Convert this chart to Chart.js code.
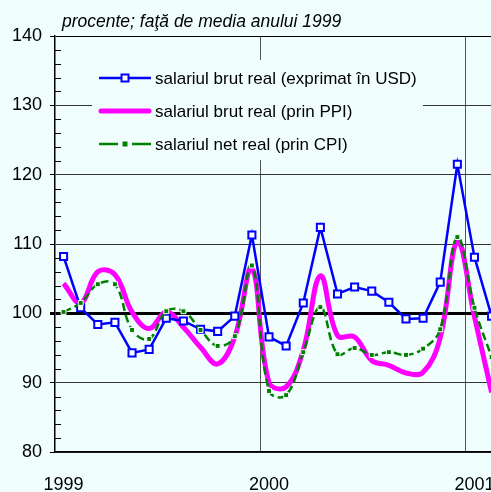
<!DOCTYPE html>
<html>
<head>
<meta charset="utf-8">
<script src="https://cdn.jsdelivr.net/npm/chart.js@4"></script>
<style>
  html, body { margin: 0; padding: 0; overflow: hidden; background: #f0fffe; }
  #wrap { width: 520px; height: 492px; }
</style>
</head>
<body>
<div id="wrap"><canvas id="salChart"></canvas></div>
<script>
// monthly values, Jan 1999 .. Feb 2001 (index 0 = Jan 1999)
const usd = [108.2, 100.8, 98.4, 98.7, 94.3, 94.8, 99.3, 98.9, 97.7, 97.4, 99.6, 111.3,
             96.6, 95.3, 101.5, 112.4, 102.8, 103.8, 103.2, 101.6, 99.2, 99.3, 104.5, 121.5,
             108.1, 99.6];
const ppi = [104.3, 101.5, 106.0, 105.6, 100.2, 97.8, 100.2, 98.0, 95.1, 92.7, 96.6, 106.5,
             90.0, 89.4, 94.7, 105.4, 96.8, 96.6, 93.2, 92.5, 91.4, 91.5, 96.5, 110.3,
             99.5, 88.6];
const cpi = [100.2, 101.5, 104.2, 104.2, 97.6, 96.3, 100.3, 100.3, 97.6, 95.3, 96.7, 106.9,
             88.8, 88.2, 94.4, 100.9, 94.1, 95.0, 94.0, 94.4, 94.0, 94.9, 97.7, 111.0,
             100.8, 93.7];

const seriesNames = ['salariul brut real (exprimat în USD)', 'salariul brut real (prin PPI)', 'salariul net real (prin CPI)'];
const yearLabels = ['1999', '2000', '2001'];
const yearTicks = [0, 12, 24];
const titleText = 'procente; faţă de media anului 1999';

const BG = '#f0fffe';
const FONT = '"Liberation Sans", Arial, sans-serif';

// points sit in the middle of each month
function toPoints(arr) {
    return arr.map((v, i) => ({ x: i + 0.5, y: v }));
}

// title, legend box and the small inner ticks of the y axis
const decorPlugin = {
    id: 'decor',
    beforeDraw(chart) {
        const ctx = chart.ctx;
        ctx.save();
        ctx.fillStyle = BG;
        ctx.fillRect(0, 0, chart.width, chart.height);
        ctx.restore();
    },
    beforeDatasetsDraw(chart) {
        const ctx = chart.ctx;
        const y = chart.scales.y;
        const left = chart.chartArea.left;
        ctx.save();
        // minor ticks every 2 units, inside the plot
        ctx.strokeStyle = '#000';
        ctx.lineWidth = 1;
        for (let v = 82; v < 140; v += 2) {
            if (v % 10 === 0) continue;
            const py = Math.round(y.getPixelForValue(v)) + 0.5;
            ctx.beginPath();
            ctx.moveTo(left, py);
            ctx.lineTo(left + 6, py);
            ctx.stroke();
        }

        // title
        ctx.fillStyle = '#000';
        ctx.font = 'italic 17.5px ' + FONT;
        ctx.textBaseline = 'alphabetic';
        ctx.fillText(titleText, 62, 27);

        // legend box (covers the grid)
        ctx.fillStyle = BG;
        ctx.fillRect(92, 60, 331, 100);
        const rows = [78, 111, 144];
        const x0 = 99, x1 = 151, xm = 125;
        const ds = chart.data.datasets;

        // blue
        ctx.strokeStyle = ds[0].borderColor;
        ctx.lineWidth = 2.5;
        ctx.beginPath(); ctx.moveTo(x0, rows[0]); ctx.lineTo(x1, rows[0]); ctx.stroke();
        ctx.fillStyle = '#fff';
        ctx.lineWidth = 2;
        ctx.fillRect(xm - 3.5, rows[0] - 3.5, 7, 7);
        ctx.strokeRect(xm - 3.5, rows[0] - 3.5, 7, 7);

        // magenta
        ctx.strokeStyle = ds[1].borderColor;
        ctx.lineWidth = 5;
        ctx.lineCap = 'round';
        ctx.beginPath(); ctx.moveTo(x0 + 2, rows[1]); ctx.lineTo(x1 - 2, rows[1]); ctx.stroke();
        ctx.lineCap = 'butt';

        // green
        ctx.strokeStyle = ds[2].borderColor;
        ctx.lineWidth = 2.5;
        ctx.beginPath();
        ctx.moveTo(x0, rows[2]); ctx.lineTo(118, rows[2]);
        ctx.moveTo(132, rows[2]); ctx.lineTo(x1, rows[2]);
        ctx.stroke();
        ctx.fillStyle = ds[2].borderColor;
        ctx.fillRect(xm - 2.5, rows[2] - 2.5, 5, 5);

        ctx.fillStyle = '#000';
        ctx.font = '17px ' + FONT;
        ctx.textBaseline = 'middle';
        seriesNames.forEach((name, i) => ctx.fillText(name, 155, rows[i] + 1));
        ctx.restore();
    }
};

const ctx = document.getElementById('salChart').getContext('2d');
const salChart = new Chart(ctx, {
    type: 'line',
    data: {
        datasets: [{
            label: seriesNames[0],
            data: toPoints(usd),
            borderColor: '#0000ff',
            borderWidth: 2.5,
            tension: 0,
            pointStyle: 'rect',
            pointRadius: 5,
            pointBorderWidth: 2,
            pointBackgroundColor: '#ffffff',
            pointBorderColor: '#0000ff',
            order: 1
        }, {
            label: seriesNames[1],
            data: toPoints(ppi),
            borderColor: '#ff00ff',
            borderWidth: 5,
            tension: 0.4,
            pointRadius: 0,
            order: 2
        }, {
            label: seriesNames[2],
            data: toPoints(cpi),
            borderColor: '#008000',
            borderWidth: 2.5,
            borderDash: [8, 4],
            tension: 0.4,
            pointStyle: 'rect',
            pointRadius: 3.5,
            pointBorderWidth: 1,
            pointBackgroundColor: '#008000',
            pointBorderColor: '#ffffff',
            order: 0
        }]
    },
    options: {
        responsive: true,
        maintainAspectRatio: false,
        animation: false,
        layout: { padding: { top: 36, left: 0, right: 0, bottom: 0 } },
        plugins: {
            legend: { display: false },
            tooltip: { enabled: false }
        },
        scales: {
            x: {
                type: 'linear',
                min: 0,
                max: 26.75,
                afterFit: scale => { scale.height = 40; },
                afterBuildTicks: scale => { scale.ticks = yearTicks.map(v => ({ value: v })); },
                grid: {
                    drawTicks: false,
                    color: c => c.tick && c.tick.value === 0 ? 'rgba(0,0,0,0)' : '#555',
                    lineWidth: 1
                },
                border: { display: true, color: '#000', width: 1.5 },
                ticks: {
                    padding: 22,
                    labelOffset: 8.5,
                    maxRotation: 0,
                    autoSkip: false,
                    color: '#000',
                    font: { family: FONT, size: 18 },
                    callback: v => yearLabels[yearTicks.indexOf(v)]
                }
            },
            y: {
                min: 80,
                max: 140,
                afterFit: scale => { scale.width = 55; },
                grid: {
                    color: c => (c.tick.value === 100 || c.tick.value === 140) ? '#000' : '#333',
                    lineWidth: c => c.tick.value === 100 ? 3 : 1,
                    tickColor: '#000',
                    tickLength: 5
                },
                border: { display: true, color: '#000', width: 1.5 },
                ticks: {
                    stepSize: 10,
                    padding: 8,
                    color: '#000',
                    font: { family: FONT, size: 18 }
                }
            }
        }
    },
    plugins: [decorPlugin]
});
</script>
</body>
</html>
